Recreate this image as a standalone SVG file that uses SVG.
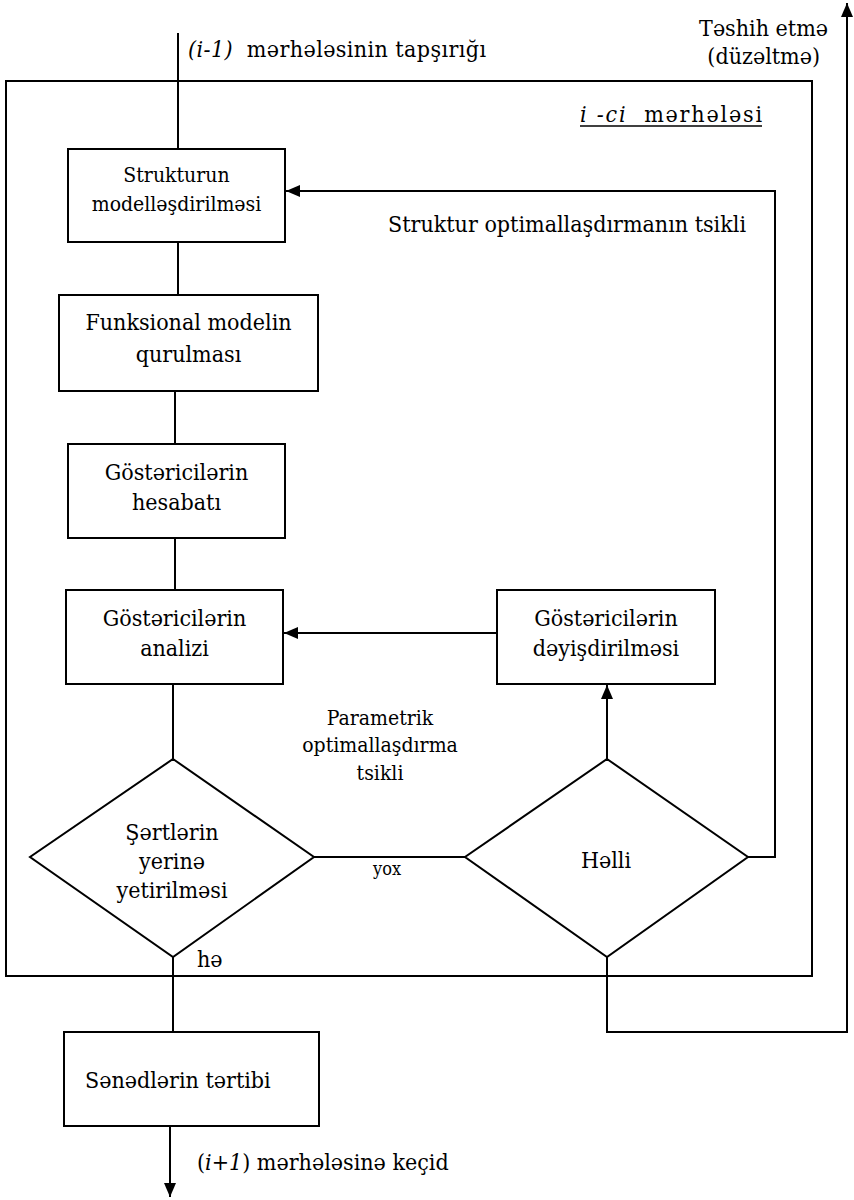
<svg xmlns="http://www.w3.org/2000/svg" width="854" height="1200" viewBox="0 0 854 1200">
  <style>
    text { font-family: "DejaVu Serif Condensed", "DejaVu Serif", serif; font-stretch: condensed; font-size: 23px; fill: #000; }
    .sm { font-size: 21px; }
    .xs { font-size: 18px; }
    .c { text-anchor: middle; }
    .e { text-anchor: end; }
    .box { fill: #fff; stroke: #000; stroke-width: 2; }
    .ln { fill: none; stroke: #000; stroke-width: 2; }
  </style>
  <defs>
    <marker id="arr" viewBox="0 0 14 12" refX="14" refY="6" markerWidth="14" markerHeight="12" markerUnits="userSpaceOnUse" orient="auto">
      <path d="M0,0 L14,6 L0,12 Z" fill="#000"/>
    </marker>
  </defs>

  <rect id="bg" x="0" y="0" width="854" height="1200" fill="#fff"/>

  <!-- stage frame -->
  <g id="stage">
    <rect x="6" y="81" width="806" height="895" class="ln"/>
    <text x="580" y="122" xml:space="preserve" textLength="182" lengthAdjust="spacing"><tspan font-style="italic">i -ci</tspan>  mərhələsi</text>
    <line x1="580" y1="126" x2="762" y2="126" stroke="#000" stroke-width="1.5"/>
  </g>

  <!-- connectors -->
  <g id="connectors">
    <line class="ln" x1="178" y1="33" x2="178" y2="149"/>
    <line class="ln" x1="178" y1="242" x2="178" y2="295"/>
    <line class="ln" x1="175" y1="391" x2="175" y2="444"/>
    <line class="ln" x1="175" y1="538" x2="175" y2="590"/>
    <line class="ln" x1="173" y1="684" x2="173" y2="759"/>
    <line class="ln" x1="497" y1="633" x2="284" y2="633" marker-end="url(#arr)"/>
    <line class="ln" x1="607" y1="759" x2="607" y2="685" marker-end="url(#arr)"/>
    <line class="ln" x1="314" y1="857" x2="465" y2="857"/>
    <polyline class="ln" points="748,857 775,857 775,191 286,191" marker-end="url(#arr)"/>
    <polyline class="ln" points="607,957 607,1032 847,1032 847,3" marker-end="url(#arr)"/>
    <line class="ln" x1="173" y1="957" x2="173" y2="1032"/>
    <line class="ln" x1="170" y1="1126" x2="170" y2="1197" marker-end="url(#arr)"/>
  </g>

  <!-- connector labels -->
  <g id="labels">
    <text x="188" y="57" xml:space="preserve" textLength="298" lengthAdjust="spacing"><tspan font-style="italic">(i-1)</tspan>  mərhələsinin tapşırığı</text>
    <text class="e" x="828" y="36">Təshih etmə</text>
    <text class="e" x="820" y="64">(düzəltmə)</text>
    <text class="e" x="746" y="232">Struktur optimallaşdırmanın tsikli</text>
    <text class="sm c" x="380" y="725">Parametrik</text>
    <text class="sm c" x="380" y="752">optimallaşdırma</text>
    <text class="sm c" x="380" y="780">tsikli</text>
    <text class="xs c" x="387" y="875">yox</text>
    <text x="197" y="967">hə</text>
    <text x="197" y="1170">(<tspan font-style="italic">i+1</tspan>) mərhələsinə keçid</text>
  </g>

  <g id="n-struktur">
    <rect class="box" x="68" y="149" width="217" height="93"/>
    <text class="sm c" x="176.5" y="182">Strukturun</text>
    <text class="sm c" x="176.5" y="211">modelləşdirilməsi</text>
  </g>

  <g id="n-funksional">
    <rect class="box" x="59" y="295" width="259" height="96"/>
    <text class="c" x="188.5" y="330">Funksional modelin</text>
    <text class="c" x="188.5" y="362">qurulması</text>
  </g>

  <g id="n-hesabat">
    <rect class="box" x="68" y="444" width="217" height="94"/>
    <text class="c" x="176.5" y="480">Göstəricilərin</text>
    <text class="c" x="176.5" y="510">hesabatı</text>
  </g>

  <g id="n-analiz">
    <rect class="box" x="66" y="590" width="217" height="94"/>
    <text class="c" x="174.5" y="626">Göstəricilərin</text>
    <text class="c" x="174.5" y="656">analizi</text>
  </g>

  <g id="n-deyisdirme">
    <rect class="box" x="497" y="590" width="218" height="94"/>
    <text class="c" x="606" y="626">Göstəricilərin</text>
    <text class="c" x="606" y="656">dəyişdirilməsi</text>
  </g>

  <g id="n-sertler">
    <polygon class="box" points="173,759 314,857 173,957 30,857"/>
    <text class="c" x="172" y="840">Şərtlərin</text>
    <text class="c" x="172" y="869">yerinə</text>
    <text class="c" x="172" y="898">yetirilməsi</text>
  </g>

  <g id="n-helli">
    <polygon class="box" points="607,759 748,857 607,957 465,857"/>
    <text class="c" x="606" y="868">Həlli</text>
  </g>

  <g id="n-senedler">
    <rect class="box" x="64" y="1032" width="255" height="94"/>
    <text x="85" y="1088">Sənədlərin tərtibi</text>
  </g>
</svg>
